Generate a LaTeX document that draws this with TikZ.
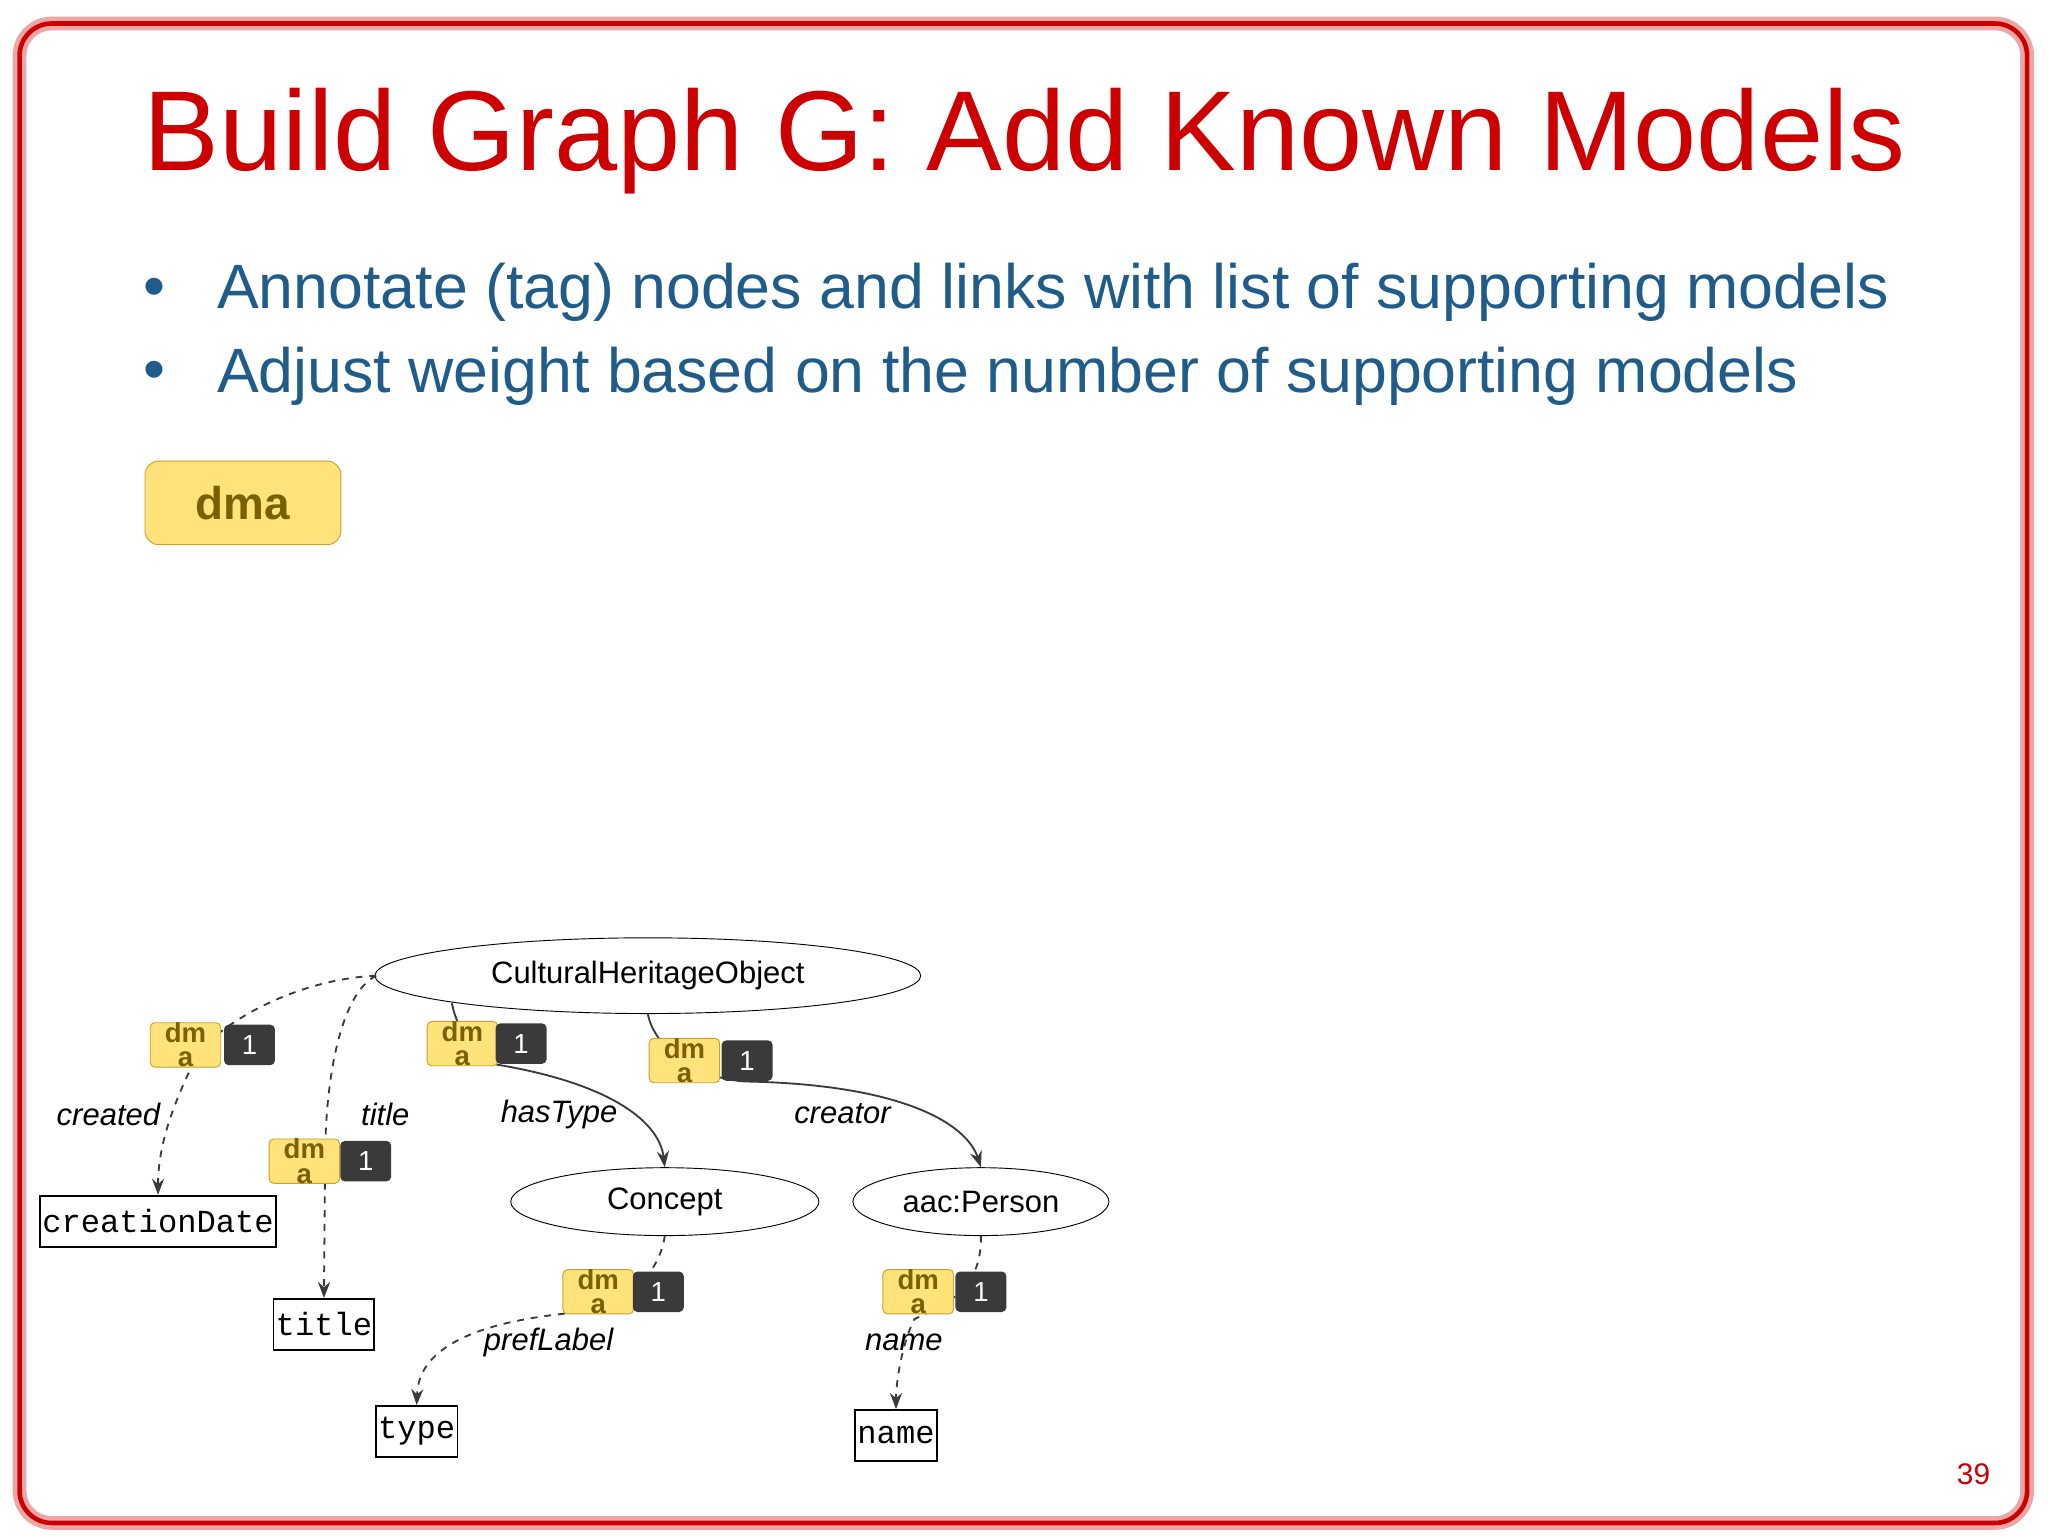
\documentclass[tikz,border=0pt]{standalone}
\usepackage{fontspec}
\setmainfont{Liberation Sans}
\setmonofont{Liberation Mono}
\usetikzlibrary{arrows.meta,shapes.geometric}
\definecolor{tred}{HTML}{CC0000}
\definecolor{tblue}{HTML}{1F5C8A}
\definecolor{tagy}{HTML}{FFE27A}
\definecolor{tagb}{HTML}{C9A227}
\definecolor{tagt}{HTML}{7A6000}
\definecolor{dark}{HTML}{3A3A3A}
\begin{document}
\begin{tikzpicture}[x=0.02cm,y=-0.02cm,
  ell/.style={draw=black,ellipse,inner sep=0pt,font=\fontsize{13.5}{13.5}\selectfont},
  lit/.style={draw=black,thick,font=\ttfamily\fontsize{14}{14}\selectfont,inner sep=1pt,minimum height=0.78cm},
  ytag/.style={draw=tagb,fill=tagy,rounded corners=2pt,minimum width=1.08cm,minimum height=0.62cm,inner sep=0pt,align=center,font=\bfseries\fontsize{12}{10.5}\selectfont,text=tagt},
  dtag/.style={fill=dark,rounded corners=2pt,minimum width=0.78cm,minimum height=0.62cm,inner sep=0pt,text=white,font=\fontsize{12}{12}\selectfont},
  elab/.style={font=\itshape\fontsize{13.5}{13.5}\selectfont},
  de/.style={draw=dark,thick,dashed,-{Stealth[length=7pt]}},
  se/.style={draw=dark,thick,-{Stealth[length=7pt]}}]
\useasboundingbox (0,0) rectangle (1568,1176);
\fill[white] (0,0) rectangle (1568,1176);
\draw[tred!35,line width=6pt,rounded corners=14pt] (15,18) rectangle (1552,1166);
\draw[tred,line width=2pt,rounded corners=14pt] (15,18) rectangle (1552,1166);
\node[anchor=west,text=tred,font=\fontsize{49.5}{49.5}\selectfont] (ttl) at (104,108) {Build Graph G: Add Known Models};
\node[anchor=west,text=tblue,font=\fontsize{27.3}{27.3}\selectfont] (b1d) at (104,224) {•};
\node[anchor=west,text=tblue,font=\fontsize{27.3}{27.3}\selectfont] (b1) at (160,224) {Annotate (tag) nodes and links with list of supporting models};
\node[anchor=west,text=tblue,font=\fontsize{27.3}{27.3}\selectfont] (b2d) at (104,288) {•};
\node[anchor=west,text=tblue,font=\fontsize{27.3}{27.3}\selectfont] (b2) at (160,288) {Adjust weight based on the number of supporting models};
\node[draw=tagb,fill=tagy,rounded corners=6pt,minimum width=3cm,minimum height=1.28cm,text=tagt,font=\bfseries\fontsize{20}{20}\selectfont] (dma) at (186,385) {dma};

\node[ell,minimum width=8.36cm,minimum height=1.16cm] (cho) at (496,747) {CulturalHeritageObject};
\node[ell,minimum width=4.72cm,minimum height=1.04cm] (con) at (509,920) {Concept};
\node[ell,minimum width=3.92cm,minimum height=1.04cm] (per) at (751,920) {aac:Person};
\node[lit] (cd) at (121,935) {creationDate};
\node[lit] (ti) at (248,1014) {title};
\node[lit] (ty) at (319,1096) {type};
\node[lit] (na) at (686,1099) {name};

\coordinate (c1) at (288,747);
\coordinate (c3) at (346,768);
\coordinate (c4) at (496,776);
\coordinate (c5) at (509,946);
\coordinate (c6) at (751,946);

\draw[de] (c1) .. controls (220,750) and (160,790) .. (150,810) .. controls (130,850) and (121,880) .. (cd.north);
\draw[de] (c1) .. controls (262,760) and (250,820) .. (249,880) -- (ti.north);
\draw[se] (c3) .. controls (350,790) and (365,808) .. (380,815) .. controls (470,830) and (505,860) .. (con.north);
\draw[se] (c4) .. controls (500,800) and (530,825) .. (570,828) .. controls (690,830) and (740,860) .. (per.north);
\draw[de] (c5) .. controls (505,975) and (480,1000) .. (440,1005) .. controls (330,1015) and (320,1050) .. (ty.north);
\draw[de] (c6) .. controls (752,990) and (720,1000) .. (700,1010) .. controls (690,1030) and (686,1060) .. (na.north);

\node[ytag] (y1) at (142,800) {dm\\a}; \node[dtag] (d1) at (191,800) {1};
\node[ytag] (y2) at (233,889) {dm\\a}; \node[dtag] (d2) at (280,889) {1};
\node[ytag] (y3) at (354,799) {dm\\a}; \node[dtag] (d3) at (399,799) {1};
\node[ytag] (y4) at (524,812) {dm\\a}; \node[dtag] (d4) at (572,812) {1};
\node[ytag] (y5) at (458,989) {dm\\a}; \node[dtag] (d5) at (504,989) {1};
\node[ytag] (y6) at (703,989) {dm\\a}; \node[dtag] (d6) at (751,989) {1};

\node[elab] (l1) at (83,853) {created};
\node[elab] (l2) at (295,853) {title};
\node[elab] (l3) at (428,853) {hasType};
\node[elab] (l4) at (645,853) {creator};
\node[elab] (l5) at (420,1028) {prefLabel};
\node[elab] (l6) at (692,1028) {name};
\node[text=tred,font=\fontsize{13}{13}\selectfont] (pg) at (1511,1129) {39};
\end{tikzpicture}
\end{document}
